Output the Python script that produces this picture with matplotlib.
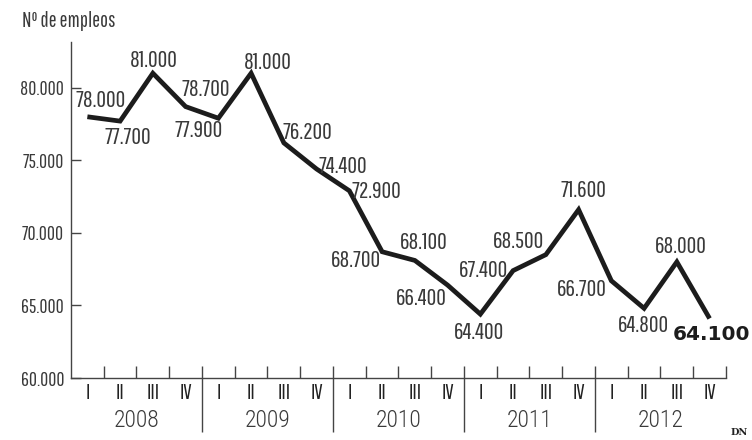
import matplotlib
matplotlib.use("Agg")
import matplotlib.pyplot as plt

FONT = "Pathway Gothic One"
TXT = "#3a3a3a"

years = ["2008", "2009", "2010", "2011", "2012"]
quarters = ["I", "II", "III", "IV"]
empleos = [78000, 77700, 81000, 78700,
           77900, 81000, 76200, 74400,
           72900, 68700, 68100, 66400,
           64400, 67400, 68500, 71600,
           66700, 64800, 68000, 64100]
# where each value label sits relative to its point (pixels)
offsets = [(13, 16), (8, -16), (1, 13), (20, 17),
           (-20, -12), (17, 11), (24, 10), (26, 3),
           (27, -1), (-26, -9), (9, 18), (-26, -13),
           (-1, -18), (-30, 0), (-27, 13), (5, 19),
           (-30, -9), (-1, -17), (4, 15), (2, -16)]

def fmt(v):
    return f"{v:,}".replace(",", ".")

fig = plt.figure(figsize=(7.52, 4.4), dpi=100)
ax = fig.add_axes([0.0944, 0.1409, 0.871, 0.7636])

x = [i + 0.5 for i in range(len(empleos))]
ax.plot(x, empleos, color="#1c1c1c", lw=3.4, solid_joinstyle="miter", solid_capstyle="butt")

for i, (xi, v) in enumerate(zip(x, empleos)):
    last = i == len(empleos) - 1
    ax.annotate(fmt(v), (xi, v), xytext=offsets[i], textcoords="offset pixels",
                ha="center", va="center", color="#1c1c1c" if last else TXT,
                fontsize=14.5 if last else 17, family="DejaVu Sans" if last else FONT,
                fontweight="bold" if last else "normal")

ax.set_xlim(0, 20)
ax.set_ylim(60000, 83150)
ax.set_yticks([60000, 65000, 70000, 75000, 80000])
ax.set_yticklabels([fmt(v) for v in [60000, 65000, 70000, 75000, 80000]],
                   family=FONT, fontsize=14, color=TXT)
ax.tick_params(axis="y", direction="in", length=7, width=1, color="#444444", pad=5)
ax.set_xticks(range(1, 21))
ax.set_xticklabels([])
ax.tick_params(axis="x", direction="in", length=9, width=1, color="#444444")

for s in ["top", "right"]:
    ax.spines[s].set_visible(False)
for s in ["left", "bottom"]:
    ax.spines[s].set_color("#444444")
    ax.spines[s].set_linewidth(1)

xt = ax.get_xaxis_transform()
for i, xi in enumerate(x):
    ax.text(xi, -0.045, quarters[i % 4], transform=xt, ha="center", va="center",
            family=FONT, fontsize=15, color="#222222")
for j, yr in enumerate(years):
    ax.text(j * 4 + 2, -0.125, yr, transform=xt, ha="center", va="center",
            family="Roboto Condensed", fontweight="light", fontsize=17, color=TXT)
ax.vlines([4, 8, 12, 16], -0.16, 0, transform=xt, color="#444444", lw=1, clip_on=False)

fig.text(0.029, 0.953, "Nº de empleos", family=FONT, fontsize=15, color=TXT, va="center")
fig.text(0.972, 0.018, "DN", family="DejaVu Serif", fontweight="bold", fontsize=7,
         color="#222222", va="center")

fig.savefig("out.png", dpi=100)
